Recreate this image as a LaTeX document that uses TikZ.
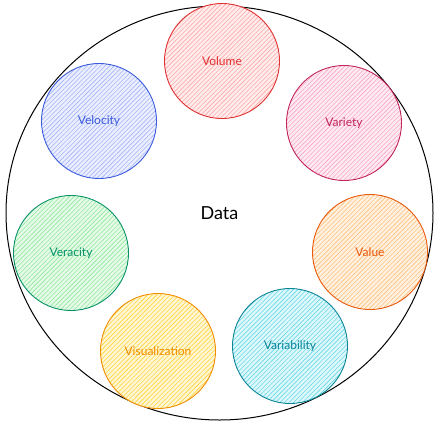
\documentclass[tikz,border=0pt]{standalone}
\usepackage{fontspec}
\setmainfont{Lato}
\usetikzlibrary{shapes.geometric, patterns.meta}
\definecolor{bdred}{HTML}{E03131}
\definecolor{bdredfill}{HTML}{FFA8A8}
\definecolor{bdindigo}{HTML}{3B5BDB}
\definecolor{bdindigofill}{HTML}{A5B4FC}
\definecolor{bdpink}{HTML}{C2255C}
\definecolor{bdpinkfill}{HTML}{FCA5C4}
\definecolor{bdteal}{HTML}{099268}
\definecolor{bdtealfill}{HTML}{8CE99A}
\definecolor{bdorange}{HTML}{E8590C}
\definecolor{bdorangefill}{HTML}{FFC078}
\definecolor{bdyellow}{HTML}{F08C00}
\definecolor{bdyellowfill}{HTML}{FFD43B}
\definecolor{bdcyan}{HTML}{0C8599}
\definecolor{bdcyanfill}{HTML}{66D9E8}

\tikzset{
  vbubble/.style 2 args={circle, minimum size=115pt, inner sep=0pt, line width=0.9pt,
    draw=#1, text=#1, font=\fontsize{12}{14}\selectfont,
    preaction={fill=#2!22},
    pattern={Lines[angle=45, distance=3.2pt, line width=0.6pt]}, pattern color=#2},
}

\begin{document}
\begin{tikzpicture}[x=1pt, y=-1pt]
  \useasboundingbox (0,0) rectangle (441,429);
  % outer frame with the title
  \node[draw=black, ellipse, line width=1pt, minimum width=427pt, minimum height=414pt,
    font=\fontsize{18}{21}\selectfont] (data) at (219.5,213) {Data};

  % the seven V's
  \node[vbubble={bdred}{bdredfill}] (volume) at (222,61) {Volume};
  \node[vbubble={bdindigo}{bdindigofill}] (velocity) at (99,121) {Velocity};
  \node[vbubble={bdpink}{bdpinkfill}] (variety) at (344,123) {Variety};
  \node[vbubble={bdteal}{bdtealfill}] (veracity) at (71,253) {Veracity};
  \node[vbubble={bdorange}{bdorangefill}] (value) at (370,252) {Value};
  \node[vbubble={bdyellow}{bdyellowfill}] (visualization) at (158,351) {Visualization};
  \node[vbubble={bdcyan}{bdcyanfill}] (variability) at (290,346) {Variability};
\end{tikzpicture}
\end{document}
